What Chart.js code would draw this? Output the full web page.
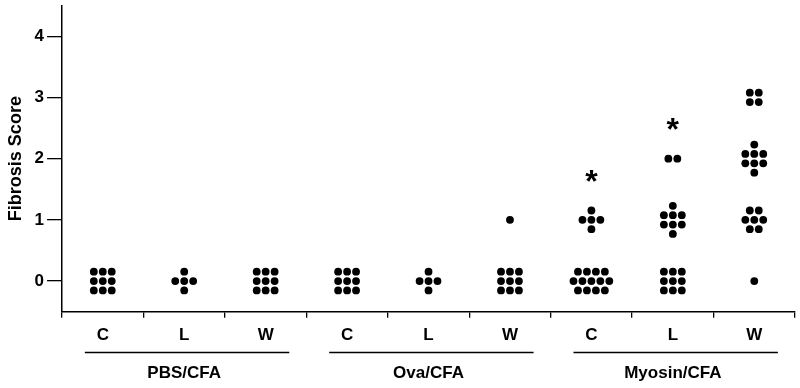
<!DOCTYPE html>
<html>
<head>
<meta charset="utf-8">
<script src="https://cdn.jsdelivr.net/npm/chart.js@4"></script>
<style>
html,body{margin:0;padding:0;background:#fff;}
#wrap{width:800px;height:388px;}
</style>
</head>
<body>
<div id="wrap"><canvas id="c" width="800" height="388"></canvas></div>
<script>
// ---- data ----
const categories = ['C','L','W','C','L','W','C','L','W'];
const groups = ['PBS/CFA','Ova/CFA','Myosin/CFA'];
const yTicks = [0,1,2,3,4];

const pbsC = [0,0,0,0,0,0,0,0,0];
const pbsL = [0,0,0,0,0];
const pbsW = [0,0,0,0,0,0,0,0,0];
const ovaC = [0,0,0,0,0,0,0,0,0];
const ovaL = [0,0,0,0,0];
const ovaW = [0,0,0,0,0,0,0,0,0,1];
const myoC = [0,0,0,0,0,0,0,0,0,0,0,0,0, 1,1,1,1,1];
const myoL = [0,0,0,0,0,0,0,0,0, 1,1,1,1,1,1,1,1, 2,2];
const myoW = [0, 1,1,1,1,1,1,1, 2,2,2,2,2,2,2,2, 3,3,3,3];
const seriesScores = [pbsC,pbsL,pbsW,ovaC,ovaL,ovaW,myoC,myoL,myoW];

// significance markers (asterisks): category index and score level
const sigCats = [6, 7];
const sigLevels = [1.72, 2.57];

// ---- layout of dot clusters ----
const rowPatterns = {1:[1],2:[2],3:[3],4:[2,2],5:[1,3,1],6:[3,3],7:[2,3,2],8:[1,3,3,1],9:[3,3,3],13:[4,5,4]};
const DX = 0.11;   // horizontal dot spacing (x units)
const DY = 0.153;  // vertical dot spacing (y units)

function clusterPoints(catIndex, scores){
  const counts = {};
  scores.forEach(s => { counts[s] = (counts[s]||0) + 1; });
  const pts = [];
  Object.keys(counts).forEach(k => {
    const v = Number(k), n = counts[k];
    let rows = rowPatterns[n];
    if (!rows){ rows=[]; let r=n; while(r>0){ rows.push(Math.min(3,r)); r-=3; } }
    const nr = rows.length;
    rows.forEach((cnt, ri) => {
      const yo = ((nr-1)/2 - ri) * DY;
      for (let j=0;j<cnt;j++){
        const xo = (j - (cnt-1)/2) * DX;
        pts.push({x: catIndex + xo, y: v + yo});
      }
    });
  });
  return pts;
}

const allPoints = [];
seriesScores.forEach((s,i) => clusterPoints(i, s).forEach(p => allPoints.push(p)));

const FONT = "'Liberation Sans', Arial, Helvetica, sans-serif";

const decor = {
  id: 'decor',
  afterDraw(chart){
    const ctx = chart.ctx;
    const xs = chart.scales.x, ys = chart.scales.y;
    ctx.save();
    // group underlines
    ctx.strokeStyle = '#000';
    ctx.lineWidth = 1.3;
    const lineY = 352.5;
    groups.forEach((g, gi) => {
      const x0 = xs.getPixelForValue(gi*3 - 0.5 + 0.28);
      const x1 = xs.getPixelForValue(gi*3 + 2.5 - 0.21);
      ctx.beginPath(); ctx.moveTo(x0, lineY); ctx.lineTo(x1, lineY); ctx.stroke();
    });
    // asterisks
    const fs = 32;
    ctx.fillStyle = '#000';
    ctx.font = 'bold ' + fs + 'px ' + FONT;
    ctx.textAlign = 'center';
    ctx.textBaseline = 'alphabetic';
    sigCats.forEach((c, i) => {
      const px = xs.getPixelForValue(c);
      const py = ys.getPixelForValue(sigLevels[i]);
      ctx.fillText('*', px, py + 0.5*fs);
    });
    ctx.restore();
  }
};

new Chart(document.getElementById('c'), {
  type: 'scatter',
  data: {
    datasets: [{
      data: allPoints,
      backgroundColor: '#000',
      borderWidth: 0,
      pointRadius: 3.9,
      pointHoverRadius: 3.9
    }]
  },
  options: {
    responsive: false,
    animation: false,
    plugins: { legend: {display:false}, tooltip: {enabled:false} },
    layout: { padding: {left: 2, right: 5, top: 4.5, bottom: 0} },
    scales: {
      x: {
        type: 'linear', min: -0.5, max: 8.5, display: false
      },
      xCat: {
        type: 'category', position: 'bottom', labels: categories,
        offset: true,
        grid: { offset: true, drawOnChartArea: false, tickLength: 6, color: '#000', lineWidth: 1.3 },
        border: { display: true, color: '#000', width: 1.5 },
        ticks: { color: '#000', padding: 7.1, maxRotation: 0, autoSkip: false,
                 font: {family: FONT, size: 17, weight: 'bold'} }
      },
      xGrp: {
        type: 'category', position: 'bottom', labels: groups,
        offset: true,
        grid: { display: false, drawOnChartArea: false, drawTicks: false },
        border: { display: false },
        ticks: { color: '#000', padding: 10.8, maxRotation: 0, autoSkip: false,
                 font: {family: FONT, size: 17, weight: 'bold'} },
        afterFit: (scale) => { scale.height = 35.7; }
      },
      y: {
        type: 'linear', min: -0.5, max: 4.5,
        afterBuildTicks: (axis) => { axis.ticks = yTicks.map(v => ({value: v})); },
        grid: { drawOnChartArea: false, tickLength: 15, color: '#000', lineWidth: 1.3 },
        border: { display: true, color: '#000', width: 1.5 },
        ticks: { color: '#000', padding: 3, font: {family: FONT, size: 17, weight: 'bold', lineHeight: 0.3} },
        title: { display: true, text: 'Fibrosis Score', color: '#000',
                 padding: {top: 3, bottom: 5},
                 font: {family: FONT, size: 18, weight: 'bold'} }
      }
    }
  },
  plugins: [decor]
});
</script>
</body>
</html>
